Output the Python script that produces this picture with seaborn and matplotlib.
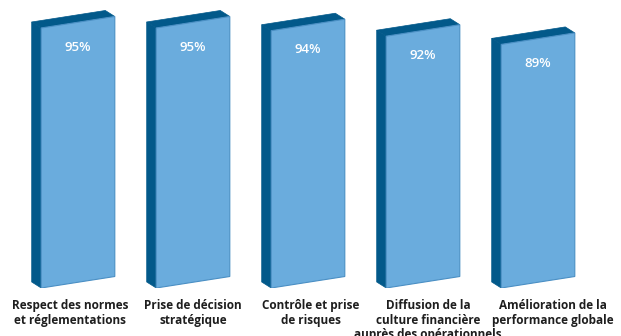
import matplotlib
matplotlib.use("Agg")
import matplotlib.pyplot as plt
import matplotlib.transforms as mtransforms
from matplotlib.patches import Polygon
import seaborn as sns
import pandas as pd

categories = [
    "Respect des normes\net réglementations",
    "Prise de décision\nstratégique",
    "Contrôle et prise\nde risques",
    "Diffusion de la\nculture financière\nauprès des opérationnels",
    "Amélioration de la\nperformance globale",
]
values = [95, 95, 94, 92, 89]
value_labels = ["95%", "95%", "94%", "92%", "89%"]

FRONT = "#6aacdd"
SIDE = "#02598a"
EDGE = "#4a8fc4"

sns.set_theme(style="white")
plt.rcParams["font.family"] = ["Open Sans", "DejaVu Sans"]

W, H = 621, 336
fig = plt.figure(figsize=(W / 100, H / 100), dpi=100)
ax = fig.add_axes([0, 48 / H, 1, (H - 48) / H])

df = pd.DataFrame({"cat": categories, "val": values})
sns.barplot(data=df, x="cat", y="val", color=FRONT, width=0.64, ax=ax)

px_x = 115.0
px_y = 2.737
ax.set_xlim(-78 / px_x, (W - 78) / px_x)
ax.set_ylim(0, (H - 48) / px_y)

skew = 11.5 / px_y
ddx = 9.5 / px_x
ddy = 6.0 / px_y

for p, v, lab in zip(ax.patches, values, value_labels):
    x = p.get_x()
    w = p.get_width()
    h = p.get_height()
    p.set_visible(False)
    side = Polygon([(x - ddx, ddy), (x, 0), (x, h), (x - ddx, h + ddy)],
                   closed=True, facecolor=SIDE, edgecolor=SIDE, lw=0.5, zorder=2)
    top = Polygon([(x, h), (x + w, h + skew), (x + w - ddx, h + skew + ddy), (x - ddx, h + ddy)],
                  closed=True, facecolor=SIDE, edgecolor=SIDE, lw=0.5, zorder=2)
    front = Polygon([(x, 0), (x + w, skew), (x + w, h + skew), (x, h)],
                    closed=True, facecolor=FRONT, edgecolor=EDGE, lw=0.8, zorder=3)
    for poly in (side, top, front):
        ax.add_patch(poly)
    ax.text(x + w / 2, h + skew / 2 - 25 / px_y, lab, ha="center", va="center",
            color="white", fontsize=9.5, fontweight="semibold", zorder=4)

ax.set_xlabel("")
ax.set_ylabel("")
ax.set_yticks([])
ax.tick_params(axis="x", length=0, pad=8)
offsets_px = [-8, 0, 3, 5, 15]
for t, off in zip(ax.get_xticklabels(), offsets_px):
    t.set_fontsize(8.5)
    t.set_fontweight("bold")
    t.set_color("#1e1e1e")
    t.set_linespacing(1.15)
    t.set_transform(t.get_transform() + mtransforms.ScaledTranslation(off / 100, 0, fig.dpi_scale_trans))
for s in ax.spines.values():
    s.set_visible(False)

fig.savefig("out.png", dpi=100)
